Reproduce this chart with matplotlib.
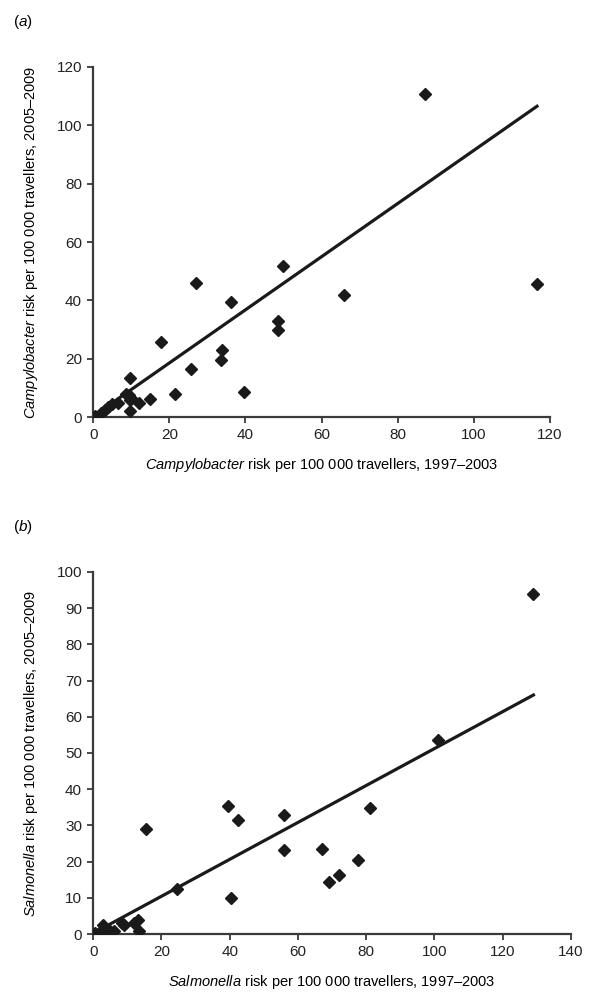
import numpy as np
import matplotlib.pyplot as plt

plt.rcParams['font.family'] = ['Liberation Sans', 'DejaVu Sans']
plt.rcParams['mathtext.fontset'] = 'custom'
plt.rcParams['mathtext.rm'] = 'Liberation Sans'
plt.rcParams['mathtext.it'] = 'Liberation Sans:italic'

# (a) Campylobacter risk per 100 000 travellers
campy_9703 = [0.5, 2, 3, 4, 5, 6.5, 8.5, 9.5, 9.6, 9.9, 9.6, 9.6, 12, 15, 17.7, 21.6,
              25.7, 27, 33.5, 33.8, 36.1, 39.7, 48.5, 48.5, 50, 66, 87.3, 116.6]
campy_0509 = [0.5, 1.5, 2.5, 3.5, 4.5, 5, 8, 7.6, 5.9, 6.5, 13.4, 2.1, 4.8, 6.2, 25.9, 7.9,
              16.6, 46, 19.7, 23.1, 39.3, 8.6, 30, 33, 51.7, 41.7, 110.7, 45.5]
campy_trend_x = [0.5, 116.6]
campy_trend_y = [0.8, 106.5]

# (b) Salmonella risk per 100 000 travellers
salm_9703 = [0.5, 2, 3, 3.5, 4, 5, 6, 8.5, 9, 12, 13, 13.5, 15.5, 24.5, 39.5, 40.5,
             42.5, 56, 56, 67, 69, 72, 77.5, 81, 101, 129]
salm_0509 = [0.3, 0.5, 2.5, 1.5, 0.5, 1, 0.8, 3, 2.5, 3, 4, 1, 29, 12.5, 35.5, 10,
             31.5, 33, 23.3, 23.5, 14.5, 16.2, 20.5, 34.7, 53.5, 94]
salm_trend_x = [0.5, 129]
salm_trend_y = [0.5, 66]

fig = plt.figure(figsize=(6.01, 9.98), dpi=100)

ink = '#1a1a1a'
axcol = '#3a3a3a'


def style(ax):
    ax.spines['top'].set_visible(False)
    ax.spines['right'].set_visible(False)
    for s in ('left', 'bottom'):
        ax.spines[s].set_color(axcol)
        ax.spines[s].set_linewidth(1.6)
    ax.tick_params(direction='out', length=4, width=1.3, color=axcol,
                   labelsize=11, labelcolor='#222222', pad=4)


# panel (a)
ax1 = fig.add_axes([0.155, 0.582, 0.76, 0.351])
ax1.plot(campy_trend_x, campy_trend_y, color=ink, lw=2.3, zorder=2)
ax1.plot(campy_9703, campy_0509, 'D', color=ink, ms=6, zorder=3)
ax1.set_xlim(0, 120)
ax1.set_ylim(0, 120)
ax1.set_xticks(np.arange(0, 121, 20))
ax1.set_yticks(np.arange(0, 121, 20))
style(ax1)
ax1.set_xlabel(r'$\it{Campylobacter}$ risk per 100 000 travellers, 1997–2003',
               fontsize=10.5, labelpad=10)
ax1.set_ylabel(r'$\it{Campylobacter}$ risk per 100 000 travellers, 2005–2009',
               fontsize=10.5, labelpad=12)

# panel (b)
ax2 = fig.add_axes([0.155, 0.064, 0.795, 0.363])
ax2.plot(salm_trend_x, salm_trend_y, color=ink, lw=2.3, zorder=2)
ax2.plot(salm_9703, salm_0509, 'D', color=ink, ms=6, zorder=3)
ax2.set_xlim(0, 140)
ax2.set_ylim(0, 100)
ax2.set_xticks(np.arange(0, 141, 20))
ax2.set_yticks(np.arange(0, 101, 10))
style(ax2)
ax2.set_xlabel(r'$\it{Salmonella}$ risk per 100 000 travellers, 1997–2003',
               fontsize=10.5, labelpad=10)
ax2.set_ylabel(r'$\it{Salmonella}$ risk per 100 000 travellers, 2005–2009',
               fontsize=10.5, labelpad=12)

fig.text(0.022, 0.978, r'($\it{a}$)', fontsize=11, va='center')
fig.text(0.022, 0.472, r'($\it{b}$)', fontsize=11, va='center')

fig.savefig('out.png', dpi=100)
